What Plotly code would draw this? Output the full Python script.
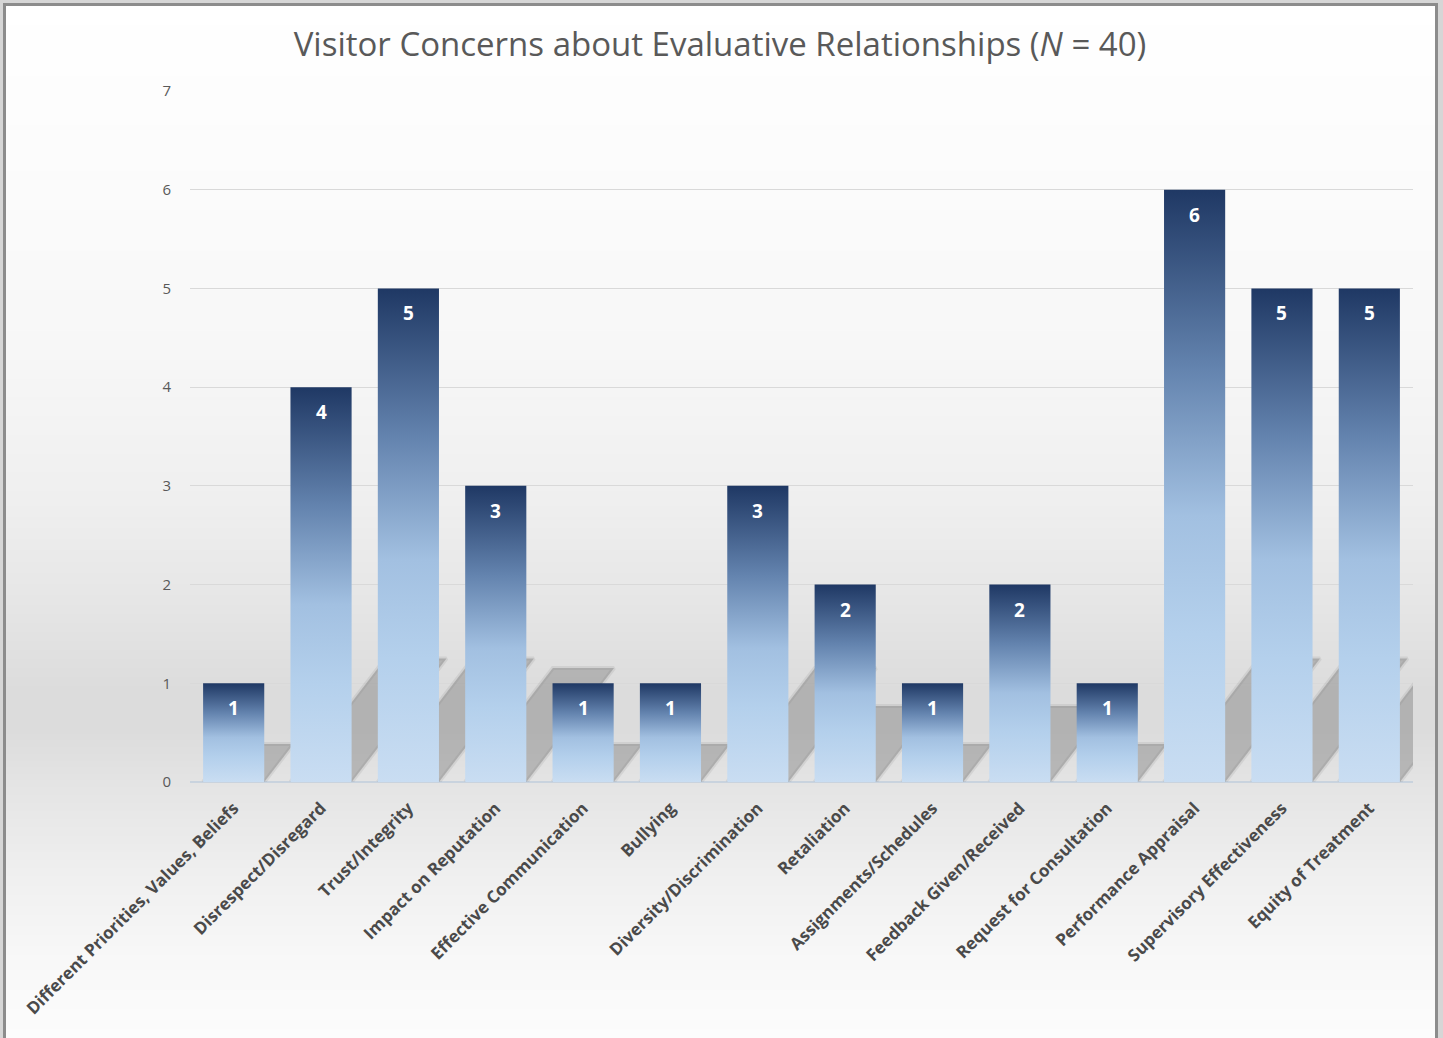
import zlib, struct, base64
import plotly.graph_objects as go

# ---------------- data ----------------
categories = [
    "Different Priorities, Values, Beliefs",
    "Disrespect/Disregard",
    "Trust/Integrity",
    "Impact on Reputation",
    "Effective Communication",
    "Bullying",
    "Diversity/Discrimination",
    "Retaliation",
    "Assignments/Schedules",
    "Feedback Given/Received",
    "Request for Consultation",
    "Performance Appraisal",
    "Supervisory Effectiveness",
    "Equity of Treatment",
]
counts = [1, 4, 5, 3, 1, 1, 3, 2, 1, 2, 1, 6, 5, 5]
y_ticks = [0, 1, 2, 3, 4, 5, 6, 7]

# ---------------- layout constants ----------------
W, H = 1443, 1038
ML, MR, MT, MB = 190, 30, 91, 256
PW, PH = W - ML - MR, H - MT - MB
BAR_W = 0.70

# ---------------- background image (figure gradient + frame) ----------------
stops = [(0, 255), (150, 252), (350, 247), (500, 239), (600, 230), (690, 220),
         (730, 220), (790, 229), (880, 240), (960, 248), (1038, 252)]


def grey_at(y):
    for (y0, c0), (y1, c1) in zip(stops[:-1], stops[1:]):
        if y0 <= y <= y1:
            t = (y - y0) / (y1 - y0)
            return int(round(c0 + (c1 - c0) * t))
    return stops[-1][1]


LIGHT = bytes([214, 214, 214])
DARK = bytes([140, 140, 140])
rows = []
for y in range(H):
    if y < 3:
        row = LIGHT * W
    elif y < 6:
        row = LIGHT * 3 + DARK * (1438 - 3) + LIGHT * (W - 1438)
    else:
        g = grey_at(y)
        bg = bytes([g, g, g])
        row = LIGHT * 3 + DARK * 3 + bg * (1435 - 6) + DARK * 3 + LIGHT * (W - 1438)
    rows.append(row)


def make_png(w, h, rows):
    raw = b"".join(b"\x00" + r for r in rows)

    def chunk(t, d):
        c = struct.pack(">I", len(d)) + t + d
        return c + struct.pack(">I", zlib.crc32(t + d) & 0xFFFFFFFF)

    return (b"\x89PNG\r\n\x1a\n"
            + chunk(b"IHDR", struct.pack(">IIBBBBB", w, h, 8, 2, 0, 0, 0))
            + chunk(b"IDAT", zlib.compress(raw, 9))
            + chunk(b"IEND", b""))


bg_uri = "data:image/png;base64," + base64.b64encode(make_png(W, H, rows)).decode()

# ---------------- figure ----------------
fig = go.Figure()

# perspective shadows (decoration derived from each bar)
px_per_x = PW / len(categories)
px_per_y = PH / 7.0
for i, v in enumerate(counts):
    h = min(0.385 * v, 1.25)
    shift = (h * px_per_y / 1.3) / px_per_x
    xs = [i - BAR_W / 2, i + BAR_W / 2, i + BAR_W / 2 + shift, i - BAR_W / 2 + shift, i - BAR_W / 2]
    ys = [0, 0, h, h, 0]
    fig.add_trace(go.Scatter(
        x=xs, y=ys, mode="lines", fill="toself",
        fillcolor="rgba(105,105,105,0.36)",
        line=dict(width=4, color="rgba(105,105,105,0.12)"),
        hoverinfo="skip", showlegend=False))

# gradient bars
bar_scale = [[0.0, "#c9ddf2"], [0.25, "#b4d0ec"], [0.45, "#a2c0e1"],
             [0.7, "#6383ae"], [1.0, "#1f3864"]]
for i, v in enumerate(counts):
    xs = [i - BAR_W / 2, i - BAR_W / 2, i + BAR_W / 2, i + BAR_W / 2, i - BAR_W / 2]
    ys = [0, v, v, 0, 0]
    fig.add_trace(go.Scatter(
        x=xs, y=ys, mode="lines", fill="toself",
        fillgradient=dict(type="vertical", colorscale=bar_scale),
        line=dict(width=0), name=categories[i],
        hovertemplate=f"{categories[i]}: {v}<extra></extra>",
        showlegend=False))

# value labels
for i, v in enumerate(counts):
    fig.add_annotation(
        x=i, y=v, text=f"<b>{v}</b>", showarrow=False,
        yanchor="top", yshift=-10,
        font=dict(family="Open Sans", size=19, color="white"))

fig.update_layout(
    width=W, height=H,
    margin=dict(l=ML, r=MR, t=MT, b=MB, pad=0),
    paper_bgcolor="white",
    plot_bgcolor="rgba(0,0,0,0)",
    images=[dict(source=bg_uri, xref="paper", yref="paper",
                 x=-ML / PW, y=1 + MT / PH, sizex=W / PW, sizey=H / PH,
                 xanchor="left", yanchor="top", sizing="stretch", layer="below")],
    title=dict(text="Visitor Concerns about Evaluative Relationships (<i>N</i> = 40)",
               x=720 / W, xref="container", xanchor="center", y=1 - 44 / H, yref="container",
               yanchor="middle",
               font=dict(family="Open Sans", size=33, color="#595959")),
    xaxis=dict(range=[-0.5, len(categories) - 0.5], tickvals=list(range(len(categories))),
               ticktext=categories, tickangle=-45, showgrid=False, zeroline=False,
               showline=False, ticks="", ticklen=0, ticklabelstandoff=12,
               tickfont=dict(family="Open Sans", size=17, color="#4a4a4a", weight="bold"),
               fixedrange=True),
    yaxis=dict(range=[0, 7], tickvals=y_ticks, showgrid=True, gridcolor="#d9d9d9",
               gridwidth=1, zeroline=True, zerolinecolor="#c9d3de", zerolinewidth=1.5,
               showline=False, ticks="", ticklabelstandoff=18,
               tickfont=dict(family="Open Sans", size=15, color="#595959"),
               fixedrange=True),
)

fig.write_html("out.html")
